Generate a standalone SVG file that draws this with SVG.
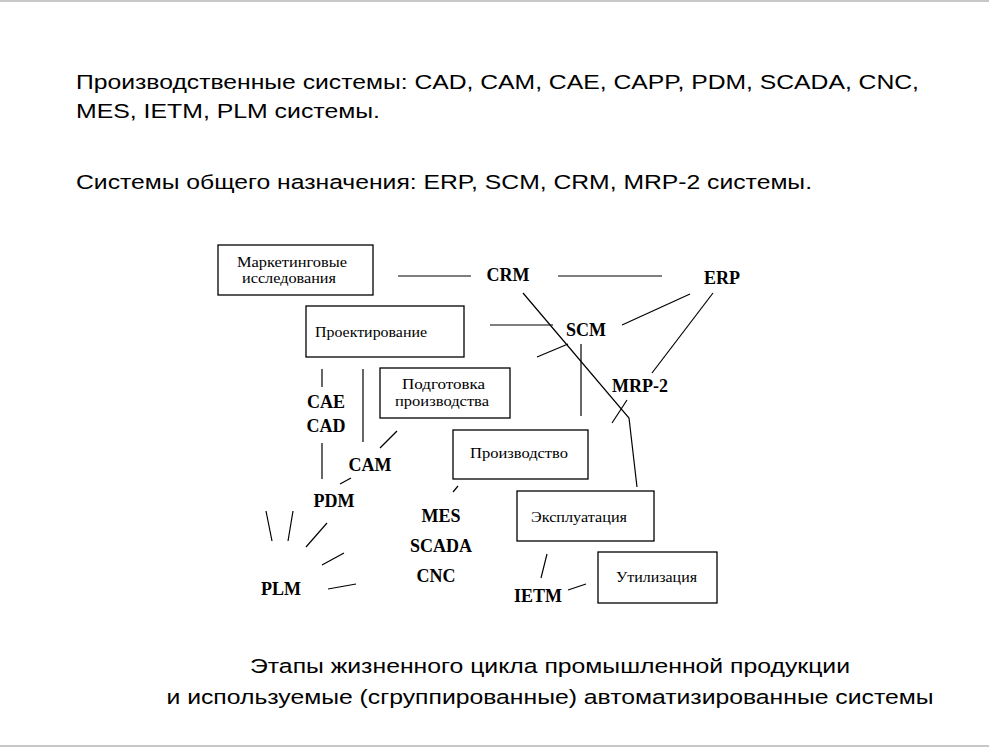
<svg xmlns="http://www.w3.org/2000/svg" width="989" height="747" viewBox="0 0 989 747">
<style>
.hdr{font-family:"Liberation Sans",Arial,sans-serif;font-size:20.5px;fill:#000}
.box{fill:#fff;stroke:#000;stroke-width:1.3}
.bt{font-family:"Liberation Serif","Times New Roman",serif;font-size:15.5px;fill:#000}
.lbl{font-family:"Liberation Serif","Times New Roman",serif;font-size:18px;font-weight:bold;fill:#000;text-anchor:middle}
.ln{stroke:#000;stroke-width:1.2;fill:none}
</style>
<rect width="989" height="747" fill="#fff"/>
<line x1="0" y1="1" x2="989" y2="1" stroke="#c8c8c8" stroke-width="2"/>
<line x1="0" y1="746" x2="989" y2="746" stroke="#c8c8c8" stroke-width="2"/>
<g id="header">
<text class="hdr" x="76" y="89" textLength="843" lengthAdjust="spacingAndGlyphs">Производственные системы: CAD, CAM, CAE, CAPP, PDM, SCADA, CNC,</text>
<text class="hdr" x="76" y="118" textLength="304" lengthAdjust="spacingAndGlyphs">MES, IETM, PLM системы.</text>
<text class="hdr" x="76" y="189" textLength="736" lengthAdjust="spacingAndGlyphs">Системы общего назначения: ERP, SCM, CRM, MRP-2 системы.</text>
</g>
<g id="connectors">
<line class="ln" x1="398" y1="276" x2="471" y2="276"/>
<line class="ln" x1="558" y1="276" x2="662" y2="276"/>
<line class="ln" x1="690" y1="294" x2="622" y2="325"/>
<line class="ln" x1="713" y1="293" x2="652" y2="373"/>
<line class="ln" x1="490" y1="325" x2="553" y2="325"/>
<polyline class="ln" points="523,293 629,418 637,487"/>
<line class="ln" x1="568" y1="344" x2="537" y2="357"/>
<line class="ln" x1="581" y1="344" x2="581" y2="416"/>
<line class="ln" x1="627" y1="400" x2="612" y2="423"/>
<line class="ln" x1="397" y1="431" x2="380" y2="448"/>
<line class="ln" x1="322" y1="369" x2="322" y2="387"/>
<line class="ln" x1="322" y1="443" x2="322" y2="479"/>
<line class="ln" x1="363" y1="369" x2="363" y2="442"/>
<line class="ln" x1="351" y1="478" x2="340" y2="484"/>
<line class="ln" x1="458" y1="486" x2="453" y2="492"/>
<line class="ln" x1="266" y1="511" x2="272" y2="541"/>
<line class="ln" x1="293" y1="511" x2="288" y2="541"/>
<line class="ln" x1="327" y1="523" x2="306" y2="547"/>
<line class="ln" x1="344" y1="553" x2="322" y2="565"/>
<line class="ln" x1="356" y1="584" x2="328" y2="589"/>
<line class="ln" x1="547" y1="554" x2="541" y2="578"/>
<line class="ln" x1="568" y1="590" x2="586" y2="584"/>
</g>
<g id="n-marketing">
<rect class="box" x="218" y="245" width="155" height="50"/>
<text class="bt" x="237" y="267" textLength="110" lengthAdjust="spacingAndGlyphs">Маркетинговые</text>
<text class="bt" x="242" y="283" textLength="94" lengthAdjust="spacingAndGlyphs">исследования</text>
</g>
<g id="n-design">
<rect class="box" x="306" y="306" width="158" height="51"/>
<text class="bt" x="315" y="337" textLength="112" lengthAdjust="spacingAndGlyphs">Проектирование</text>
</g>
<g id="n-prep">
<rect class="box" x="380" y="368" width="130" height="50"/>
<text class="bt" x="402" y="389" textLength="83" lengthAdjust="spacingAndGlyphs">Подготовка</text>
<text class="bt" x="395" y="406" textLength="94" lengthAdjust="spacingAndGlyphs">производства</text>
</g>
<g id="n-production">
<rect class="box" x="453" y="430" width="135" height="49"/>
<text class="bt" x="470" y="458" textLength="98" lengthAdjust="spacingAndGlyphs">Производство</text>
</g>
<g id="n-exploitation">
<rect class="box" x="517" y="491" width="137" height="50"/>
<text class="bt" x="531" y="522" textLength="96" lengthAdjust="spacingAndGlyphs">Эксплуатация</text>
</g>
<g id="n-disposal">
<rect class="box" x="598" y="552" width="119" height="51"/>
<text class="bt" x="616" y="582" textLength="81" lengthAdjust="spacingAndGlyphs">Утилизация</text>
</g>
<g id="labels">
<text class="lbl" x="508" y="281">CRM</text>
<text class="lbl" x="722" y="284">ERP</text>
<text class="lbl" x="586" y="336">SCM</text>
<text class="lbl" x="640" y="392">MRP-2</text>
<text class="lbl" x="326" y="408">CAE</text>
<text class="lbl" x="326" y="432">CAD</text>
<text class="lbl" x="370" y="471">CAM</text>
<text class="lbl" x="334" y="507">PDM</text>
<text class="lbl" x="281" y="595">PLM</text>
<text class="lbl" x="441" y="522">MES</text>
<text class="lbl" x="441" y="552">SCADA</text>
<text class="lbl" x="436" y="582">CNC</text>
<text class="lbl" x="538" y="602">IETM</text>
</g>
<g id="caption">
<text class="hdr" x="550" y="673" text-anchor="middle" textLength="600" lengthAdjust="spacingAndGlyphs">Этапы жизненного цикла промышленной продукции</text>
<text class="hdr" x="550" y="704" text-anchor="middle" textLength="767" lengthAdjust="spacingAndGlyphs">и используемые (сгруппированные) автоматизированные системы</text>
</g>
</svg>
